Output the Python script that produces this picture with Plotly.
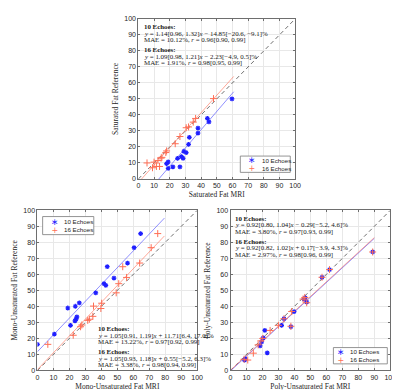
import plotly.graph_objects as go

# ---------------- data ----------------
ticks = [0, 10, 20, 30, 40, 50, 60, 70, 80, 90, 100]
tick_labels = [str(t) for t in ticks]
series_names = ["10 Echoes", "16 Echoes"]

sat_mri_10 = [18, 19, 19, 22, 25, 26.5, 27.5, 28.5, 29, 30.5, 32, 32.5, 38, 38, 44, 45, 59.7]
sat_ref_10 = [9.6, 10.6, 6.6, 7.6, 12.9, 7.5, 13.9, 12.9, 17.3, 16.5, 21.6, 26, 31.8, 28.6, 37.9, 35.6, 50]
sat_mri_16 = [5.5, 9, 10, 11.5, 12.5, 13.5, 14.5, 15, 17.5, 18, 23.5, 26.5, 30.5, 32, 35, 36.5, 47.9]
sat_ref_16 = [10, 7, 10.5, 7.8, 11.5, 7.8, 13, 13.5, 16.5, 17.5, 22, 26.5, 32, 32.5, 35.5, 37.8, 50.2]

mono_mri_10 = [0, 10.6, 19, 20.7, 23.7, 23.5, 24.2, 24.7, 26.2, 36.5, 41.7, 42.8, 43.7, 47.9, 56.4, 60.5, 64.6]
mono_ref_10 = [16.3, 22.7, 39, 28.2, 40.1, 31, 32, 33.5, 42.2, 48.4, 54.2, 53.1, 64.8, 57.7, 67.1, 76.7, 85.5]
mono_mri_16 = [6.5, 22.4, 27, 27.8, 31.5, 32.5, 34.7, 35.1, 39.7, 40.2, 49.3, 50.9, 55.8, 53.4, 64, 71.2, 75.3]
mono_ref_16 = [16.3, 22, 27.3, 28.4, 31.3, 32, 33.8, 40.2, 38.7, 42, 48.5, 54.2, 58.1, 64.8, 67.1, 76.7, 85.5]

poly_mri_10 = [8.8, 9.2, 18.5, 19.5, 20.5, 21.5, 23, 32, 33.5, 37.8, 39.8, 46, 46.8, 47.7, 57.3, 62, 89]
poly_ref_10 = [6.5, 7.2, 15.3, 17.8, 20.4, 25, 11, 28.2, 32.3, 27.3, 36.8, 44.5, 45.4, 42.7, 58.2, 63, 74]
poly_mri_16 = [8.5, 10.8, 14.3, 17.3, 19, 20.2, 24.8, 30, 33.5, 37.8, 38.3, 45.4, 46.5, 47.7, 57.3, 62, 89]
poly_ref_16 = [7, 6.5, 10.8, 16, 18.5, 20, 25, 28.2, 32.3, 27.6, 36.8, 44.6, 45.6, 42.3, 58.2, 63, 74]

# fit (slope, intercept) per series and x extent of fit lines
sat_fit_10, sat_fit_16 = (1.14, -14.85), (1.09, -2.23)
mono_fit_10, mono_fit_16 = (1.05, 11.71), (1.05, 0.55)
poly_fit_10, poly_fit_16 = (0.92, -0.29), (0.92, 0.17)
sat_fit_xmax, mono_fit_xmax, poly_fit_xmax = 60.8, 79.5, 90

sat_text = ["<b>10 Echoes:</b>",
            "<i>y</i> = 1.14[0.96, 1.32]<i>x</i> − 14.85[−20.6, −9.1]%",
            "MAE = 10.12%, <i>r</i> = 0.96[0.90, 0.99]",
            "<b>16 Echoes:</b>",
            "<i>y</i> = 1.09[0.98, 1.21]<i>x</i> − 2.23[−4.9, 0.5]%",
            "MAE = 1.91%, <i>r</i> = 0.98[0.95, 0.99]"]
mono_text = ["<b>10 Echoes:</b>",
             "<i>y</i> = 1.05[0.91, 1.19]<i>x</i> + 11.71[6.4, 17.0]%",
             "MAE = 13.22%, <i>r</i> = 0.97[0.92, 0.99]",
             "<b>16 Echoes:</b>",
             "<i>y</i> = 1.05[0.93, 1.18]<i>x</i> + 0.55[−5.2, 6.3]%",
             "MAE = 3.38%, <i>r</i> = 0.98[0.94, 0.99]"]
poly_text = ["<b>10 Echoes:</b>",
             "<i>y</i> = 0.92[0.80, 1.04]<i>x</i> − 0.29[−5.2, 4.6]%",
             "MAE = 3.80%, <i>r</i> = 0.97[0.93, 0.99]",
             "<b>16 Echoes:</b>",
             "<i>y</i> = 0.92[0.82, 1.02]<i>x</i> + 0.17[−3.9, 4.3]%",
             "MAE = 2.97%, <i>r</i> = 0.98[0.96, 0.99]"]

# ---------------- styling ----------------
W, H = 400, 390
BLUE = "#1f1fff"
RED = "#ff6e55"
BLUE_LINE = "rgba(70,70,255,0.6)"
RED_LINE = "rgba(255,110,85,0.6)"
SANS = "Liberation Sans, Arial, sans-serif"
SERIF = "Liberation Serif, DejaVu Serif, serif"
LEG_FONT = 6.2

def px_x(p):
    return p / W

def px_y(p):
    return 1 - p / H

panels = [
    dict(sfx="", xd=(131, 291), yd=(7, 170), mri10=sat_mri_10, ref10=sat_ref_10,
         mri16=sat_mri_16, ref16=sat_ref_16, f10=sat_fit_10, f16=sat_fit_16,
         fx=sat_fit_xmax, text=sat_text, tx=136, ty=[15, 21.7, 28.3, 38.3, 45.3, 51.9],
         xt="Saturated Fat MRI", yt="Saturated Fat Reference",
         box=(235, 146.7, 286, 163.3), gx=246.5, lx=256.5),
    dict(sfx="2", xd=(28, 191), yd=(202, 365), mri10=mono_mri_10, ref10=mono_ref_10,
         mri16=mono_mri_16, ref16=mono_ref_16, f10=mono_fit_10, f16=mono_fit_16,
         fx=mono_fit_xmax, text=mono_text, tx=89, ty=[322.5, 329.2, 335.8, 345.8, 352.8, 359.4],
         xt="Mono-Unsaturated Fat MRI", yt="Mono-Unsaturated Fat Reference",
         box=(33.3, 208.3, 85.5, 226.7), gx=45.5, lx=54),
    dict(sfx="3", xd=(225, 388), yd=(202, 365), mri10=poly_mri_10, ref10=poly_ref_10,
         mri16=poly_mri_16, ref16=poly_ref_16, f10=poly_fit_10, f16=poly_fit_16,
         fx=poly_fit_xmax, text=poly_text, tx=229, ty=[210, 216.7, 223.3, 233.3, 240.3, 246.9],
         xt="Poly-Unsaturated Fat MRI", yt="Poly-Unsaturated Fat Reference",
         box=(330, 341.7, 385, 358.3), gx=337.5, lx=346),
]

fig = go.Figure()
layout = dict(width=W, height=H, margin=dict(l=0, r=0, t=0, b=0),
              paper_bgcolor="white", plot_bgcolor="white", showlegend=False,
              annotations=[], shapes=[])

glyph_text = ("<span style='color:%s;font-size:9px'>∗</span><br>"
              "<span style='color:%s;font-size:8px'>+</span>") % (BLUE, RED)
names_text = "<br>".join(series_names)

for p in panels:
    xa, ya = "x" + p["sfx"], "y" + p["sfx"]
    # identity line
    fig.add_trace(go.Scatter(x=[ticks[0], ticks[-1]], y=[ticks[0], ticks[-1]], mode="lines",
                             line=dict(color="#4a4a4a", width=0.8, dash="4px,3px"),
                             xaxis=xa, yaxis=ya, showlegend=False, hoverinfo="skip"))
    # fit lines
    for (m, b), col in [(p["f10"], BLUE_LINE), (p["f16"], RED_LINE)]:
        fx = [0, p["fx"]]
        fig.add_trace(go.Scatter(x=fx, y=[m * v + b for v in fx], mode="lines",
                                 line=dict(color=col, width=1), xaxis=xa, yaxis=ya,
                                 showlegend=False, hoverinfo="skip"))
    # points
    fig.add_trace(go.Scatter(x=p["mri10"], y=p["ref10"], mode="markers", name=series_names[0],
                             marker=dict(symbol="asterisk-open", size=4, color=BLUE,
                                         line=dict(color=BLUE, width=1.2)),
                             xaxis=xa, yaxis=ya))
    fig.add_trace(go.Scatter(x=p["mri16"], y=p["ref16"], mode="markers", name=series_names[1],
                             marker=dict(symbol="cross-thin-open", size=5, color=RED,
                                         line=dict(color=RED, width=1)),
                             xaxis=xa, yaxis=ya))

    axcommon = dict(range=[ticks[0], ticks[-1]], tickvals=ticks, ticktext=tick_labels,
                    showgrid=True, gridcolor="#e8e8e8", gridwidth=1,
                    zeroline=False, showline=True, linecolor="#6e6e6e", linewidth=1,
                    mirror="ticks", ticks="inside", ticklen=2, tickcolor="#6e6e6e",
                    tickfont=dict(family=SANS, size=7, color="#262626"))
    layout["xaxis" + p["sfx"]] = dict(axcommon, domain=[px_x(p["xd"][0]), px_x(p["xd"][1])],
                                      anchor=ya,
                                      title=dict(text=p["xt"], standoff=3,
                                                 font=dict(family=SERIF, size=7.5, color="#262626")))
    layout["yaxis" + p["sfx"]] = dict(axcommon, domain=[px_y(p["yd"][1]), px_y(p["yd"][0])],
                                      anchor=xa,
                                      title=dict(text=p["yt"], standoff=4,
                                                 font=dict(family=SERIF, size=7.5, color="#262626")))
    # statistics text
    for line, yy in zip(p["text"], p["ty"]):
        layout["annotations"].append(dict(xref="paper", yref="paper", x=px_x(p["tx"]), y=px_y(yy),
                                          xanchor="left", yanchor="middle", showarrow=False,
                                          text=line, borderpad=0,
                                          font=dict(family=SERIF, size=6.9, color="#1a1a1a")))
    # legend box
    x0, y0, x1, y1 = p["box"]
    ym = (y0 + y1) / 2
    layout["shapes"].append(dict(type="rect", xref="paper", yref="paper",
                                 x0=px_x(x0), x1=px_x(x1), y0=px_y(y1), y1=px_y(y0),
                                 line=dict(color="#7a7a7a", width=0.8), fillcolor="white",
                                 layer="above"))
    layout["annotations"].append(dict(xref="paper", yref="paper", x=px_x(p["gx"]), y=px_y(ym),
                                      xanchor="center", yanchor="middle", showarrow=False,
                                      text=glyph_text, borderpad=0,
                                      font=dict(family="DejaVu Sans", size=LEG_FONT, color=BLUE)))
    layout["annotations"].append(dict(xref="paper", yref="paper", x=px_x(p["lx"]), y=px_y(ym),
                                      xanchor="left", yanchor="middle", showarrow=False,
                                      text=names_text, align="left", borderpad=0,
                                      font=dict(family=SANS, size=LEG_FONT, color="#262626")))

fig.update_layout(**layout)
fig.write_html("out.html")
